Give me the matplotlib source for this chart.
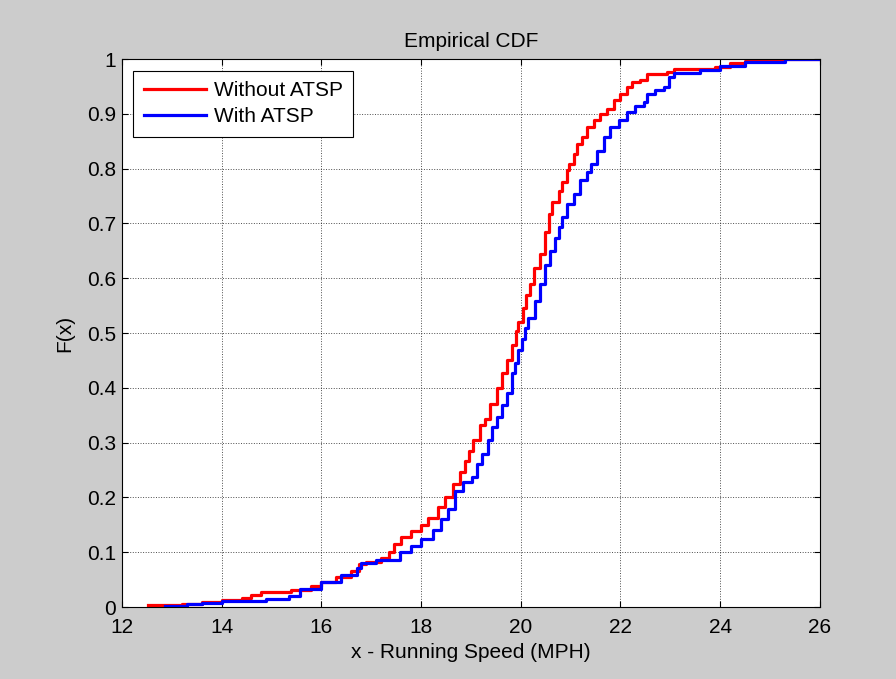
import matplotlib.pyplot as plt

# knots of the empirical CDFs (speed in MPH, F(x))
without_x = [12.52, 13.2, 13.6, 14.0, 14.4, 14.6, 14.8, 15.4, 15.8, 16.0,
             16.3, 16.6, 16.75, 16.9, 17.2, 17.35, 17.45, 17.6, 17.8, 18.0,
             18.15, 18.35, 18.48, 18.65, 18.78, 18.88, 18.97, 19.05, 19.18, 19.28,
             19.38, 19.52, 19.62, 19.72, 19.82, 19.91, 19.95, 20.05, 20.11, 20.19,
             20.27, 20.39, 20.49, 20.57, 20.62, 20.76, 20.82, 20.92, 20.96, 21.06,
             21.13, 21.23, 21.33, 21.47, 21.6, 21.73, 21.87, 22.0, 22.13, 22.23,
             22.4, 22.53, 22.94, 23.07, 23.9, 24.2, 24.5, 25.0, 26.0]
without_f = [0.003, 0.006, 0.009, 0.012, 0.016, 0.022, 0.027, 0.031, 0.038, 0.045,
             0.055, 0.065, 0.078, 0.082, 0.09, 0.1, 0.115, 0.128, 0.138, 0.15,
             0.162, 0.182, 0.2, 0.225, 0.246, 0.267, 0.285, 0.304, 0.332, 0.344,
             0.371, 0.399, 0.427, 0.451, 0.479, 0.503, 0.521, 0.546, 0.57, 0.589,
             0.619, 0.644, 0.684, 0.717, 0.739, 0.76, 0.776, 0.797, 0.808, 0.827,
             0.845, 0.857, 0.876, 0.888, 0.9, 0.909, 0.925, 0.937, 0.949, 0.958,
             0.961, 0.973, 0.977, 0.981, 0.986, 0.992, 0.996, 1.0, 1.0]

with_x = [12.86, 13.3, 13.6, 14.0, 14.9, 15.36, 15.57, 16.0, 16.4, 16.72,
          16.8, 17.1, 17.57, 17.8, 18.0, 18.25, 18.4, 18.55, 18.68, 18.85,
          19.02, 19.12, 19.22, 19.35, 19.42, 19.52, 19.62, 19.72, 19.82, 19.89,
          19.95, 20.02, 20.08, 20.15, 20.29, 20.39, 20.49, 20.59, 20.69, 20.76,
          20.82, 20.92, 21.06, 21.19, 21.32, 21.4, 21.53, 21.67, 21.8, 21.97,
          22.13, 22.3, 22.47, 22.53, 22.7, 22.87, 22.97, 23.07, 23.6, 24.0,
          24.5, 25.3, 26.0]
with_f = [0.002, 0.005, 0.008, 0.011, 0.015, 0.021, 0.032, 0.045, 0.058, 0.072,
          0.08, 0.086, 0.1, 0.112, 0.125, 0.14, 0.16, 0.179, 0.212, 0.228,
          0.237, 0.261, 0.28, 0.304, 0.329, 0.347, 0.368, 0.39, 0.427, 0.445,
          0.469, 0.49, 0.51, 0.527, 0.558, 0.589, 0.625, 0.65, 0.674, 0.693,
          0.711, 0.736, 0.754, 0.779, 0.794, 0.808, 0.833, 0.857, 0.876, 0.888,
          0.903, 0.915, 0.921, 0.937, 0.943, 0.949, 0.967, 0.975, 0.98, 0.988,
          0.994, 1.0, 1.0]

x_ticks = [12, 14, 16, 18, 20, 22, 24, 26]
y_ticks = [0, 0.1, 0.2, 0.3, 0.4, 0.5, 0.6, 0.7, 0.8, 0.9, 1]
y_labels = ['0', '0.1', '0.2', '0.3', '0.4', '0.5', '0.6', '0.7', '0.8', '0.9', '1']

plt.rcParams['font.family'] = ['Liberation Sans', 'DejaVu Sans']
fs = 15

fig = plt.figure(figsize=(8.96, 6.79), dpi=100, facecolor='#cccccc')
ax = fig.add_axes([0.136, 0.106, 0.779, 0.807])

ax.plot(without_x, without_f, color='#ff0000', lw=2.3, drawstyle='steps-post',
        label='Without ATSP')
ax.plot(with_x, with_f, color='#0000ff', lw=2.3, drawstyle='steps-post',
        label='With ATSP')

ax.set_xlim(12, 26)
ax.set_ylim(0, 1)
ax.set_xticks(x_ticks)
ax.set_yticks(y_ticks)
ax.set_yticklabels(y_labels)
ax.tick_params(direction='in', top=True, right=True, labelsize=fs, length=4,
               width=0.8)
ax.tick_params(axis='x', pad=8)
ax.tick_params(axis='y', pad=4)
ax.grid(True, color='black', linestyle=':', linewidth=0.7, alpha=0.7)
for s in ax.spines.values():
    s.set_linewidth(0.8)

ax.set_title('Empirical CDF', fontsize=fs, pad=9)
ax.set_xlabel('x - Running Speed (MPH)', fontsize=fs, labelpad=4)
ax.set_ylabel('F(x)', fontsize=fs, labelpad=9)

leg = ax.legend(loc='upper left', fontsize=fs, fancybox=False, framealpha=1,
                edgecolor='black', handlelength=3.0, handletextpad=0.35,
                borderaxespad=0.55, borderpad=0.5, labelspacing=0.35)
leg.get_frame().set_linewidth(0.8)

fig.savefig('out.png', dpi=100, facecolor=fig.get_facecolor())
